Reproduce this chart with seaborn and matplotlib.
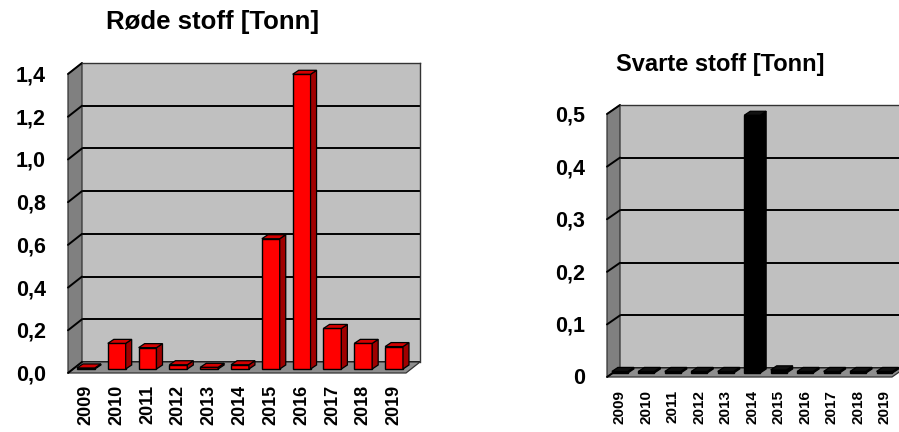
import numpy as np
import pandas as pd
import matplotlib
matplotlib.use("Agg")
import matplotlib.pyplot as plt
import matplotlib.transforms as mtransforms
from matplotlib.patches import Polygon
from matplotlib.lines import Line2D
import seaborn as sns

# ---- data ----
years = ["2009", "2010", "2011", "2012", "2013", "2014",
         "2015", "2016", "2017", "2018", "2019"]
rode = [0.005, 0.12, 0.10, 0.02, 0.008, 0.02, 0.61, 1.38, 0.19, 0.12, 0.105]
svarte = [0.003, 0.003, 0.003, 0.003, 0.003, 0.49, 0.006, 0.003, 0.003, 0.003, 0.003]

rode_ticks = [0.0, 0.2, 0.4, 0.6, 0.8, 1.0, 1.2, 1.4]
rode_ticklabels = ["0,0", "0,2", "0,4", "0,6", "0,8", "1,0", "1,2", "1,4"]
svarte_ticks = [0.0, 0.1, 0.2, 0.3, 0.4, 0.5]
svarte_ticklabels = ["0", "0,1", "0,2", "0,3", "0,4", "0,5"]

rode_title = "Røde stoff [Tonn]"
svarte_title = "Svarte stoff [Tonn]"

sns.set_theme(style="white")
plt.rcParams["font.family"] = ["Liberation Sans", "DejaVu Sans"]
plt.rcParams["font.weight"] = "bold"
plt.rcParams["text.color"] = "black"

W, H = 899, 432
fig = plt.figure(figsize=(W / 100, H / 100), dpi=100)
fig.patch.set_facecolor("white")


def add_axes_px(x0, y0, x1, y1):
    return fig.add_axes([x0 / W, 1 - y1 / H, (x1 - x0) / W, (y1 - y0) / H])


ident = mtransforms.IdentityTransform()


def draw_panel(ax, values, ticks, ticklabels, ymax, xlim, width,
               face, top_c, side_c, edge, wall_off, bar_off, depth,
               xfs, yfs, ylab_off, xlab_pad):
    df = pd.DataFrame({"year": years, "value": values})
    sns.barplot(data=df, x="year", y="value", ax=ax, color=face,
                saturation=1, width=width, edgecolor=edge, linewidth=1.0)
    bars = list(ax.patches)

    ax.set_xlim(*xlim)
    ax.set_ylim(0, ymax)
    ax.set_facecolor("#C0C0C0")
    ax.set_xlabel("")
    ax.set_ylabel("")
    ax.set_yticks(ticks)
    ax.tick_params(length=0, labelleft=False, labelbottom=False)
    ax.yaxis.grid(True, color="black", linewidth=1.4)
    ax.xaxis.grid(False)
    ax.set_axisbelow(True)
    for s in ["left", "bottom"]:
        ax.spines[s].set_visible(False)
    for s in ["top", "right"]:
        ax.spines[s].set_color("#333333")
        ax.spines[s].set_linewidth(1.0)

    off = np.array(wall_off, dtype=float)
    bl = ax.transAxes.transform((0, 0))
    tl = ax.transAxes.transform((0, 1))
    br = ax.transAxes.transform((1, 0))

    # side wall and floor of the 3-D frame
    ax.add_patch(Polygon([bl, tl, tl + off, bl + off], closed=True,
                         facecolor="#808080", edgecolor="#333333", lw=0.9,
                         transform=ident, clip_on=False, zorder=0.6))
    ax.add_patch(Polygon([bl, br, br + off, bl + off], closed=True,
                         facecolor="#8E8E8E", edgecolor="#333333", lw=0.9,
                         transform=ident, clip_on=False, zorder=0.6))
    # gridline continuation across the side wall
    for t in ticks:
        p = ax.transData.transform((xlim[0], t))
        q = p + off
        ax.add_line(Line2D([p[0], q[0]], [p[1], q[1]], color="black",
                           lw=1.4, transform=ident, clip_on=False,
                           zorder=0.7))

    # 3-D bars: shift the front faces, add top and side faces
    sx, sy = bar_off
    ddx, ddy = depth
    shift = mtransforms.Affine2D().translate(sx, sy)
    for p in bars:
        x0, w, h = p.get_x(), p.get_width(), p.get_height()
        p.set_transform(ax.transData + shift)
        p.set_clip_on(False)
        p.set_zorder(2)
        X0, Y0 = ax.transData.transform((x0, 0)) + np.array([sx, sy])
        X1, Y1 = ax.transData.transform((x0 + w, h)) + np.array([sx, sy])
        ax.add_patch(Polygon([(X1, Y0), (X1 + ddx, Y0 + ddy),
                              (X1 + ddx, Y1 + ddy), (X1, Y1)], closed=True,
                             facecolor=side_c, edgecolor=edge, lw=0.9,
                             transform=ident, clip_on=False, zorder=2.1))
        ax.add_patch(Polygon([(X0, Y1), (X1, Y1), (X1 + ddx, Y1 + ddy),
                              (X0 + ddx, Y1 + ddy)], closed=True,
                             facecolor=top_c, edgecolor=edge, lw=0.9,
                             transform=ident, clip_on=False, zorder=2.2))

    # value axis labels at the front edge of the side wall
    ytrans = mtransforms.offset_copy(ax.get_yaxis_transform(), fig=fig,
                                     x=ylab_off[0], y=ylab_off[1],
                                     units="dots")
    for t, lab in zip(ticks, ticklabels):
        ax.text(0, t, lab, transform=ytrans, ha="right", va="center",
                fontsize=yfs, fontweight="bold", color="black",
                clip_on=False)

    # year labels under the bars
    xbase = mtransforms.blended_transform_factory(ax.transData, ax.transAxes)
    xtrans = mtransforms.offset_copy(xbase, fig=fig, x=sx, y=-xlab_pad,
                                     units="dots")
    for i, yr in enumerate(years):
        ax.text(i, 0, yr, transform=xtrans, rotation=90, ha="center",
                va="top", fontsize=xfs, fontweight="bold", color="black",
                clip_on=False)


ax1 = add_axes_px(82, 63, 420, 362)
draw_panel(ax1, rode, rode_ticks, rode_ticklabels, 1.4,
           xlim=(-0.42, 10.55), width=0.58,
           face="#FF0000", top_c="#D40000", side_c="#A00000", edge="black",
           wall_off=(-14, -11), bar_off=(-9, -7), depth=(6, 4),
           xfs=13, yfs=15.5, ylab_off=(-36, -13), xlab_pad=23)

ax2 = add_axes_px(620, 105, 905, 368)
draw_panel(ax2, svarte, svarte_ticks, svarte_ticklabels, 0.5,
           xlim=(-0.26, 10.51), width=0.6,
           face="#000000", top_c="#111111", side_c="#000000", edge="black",
           wall_off=(-13, -9), bar_off=(-7, -5), depth=(6, 4),
           xfs=11, yfs=15.5, ylab_off=(-35, -11), xlab_pad=22)

fig.text(213 / W, 1 - 22 / H, rode_title, ha="center", va="center",
         fontsize=18.5, fontweight="bold", color="black")
fig.text(720 / W, 1 - 65 / H, svarte_title, ha="center", va="center",
         fontsize=17, fontweight="bold", color="black")

fig.savefig("out.png", dpi=100)
